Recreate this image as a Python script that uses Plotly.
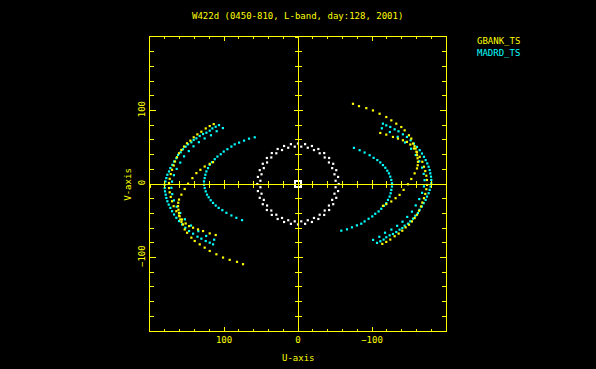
import plotly.graph_objects as go

# ---------------- text ----------------
title_text = "W422d (0450-810, L-band, day:128, 2001)"
series_names = ["GBANK_TS", "MADRD_TS"]
x_title = "U-axis"
y_title = "V-axis"
major_ticks = [-100, 0, 100]

# ---------------- data (u, v) ----------------
# MADRD_TS : outer track
madrd_outer_u = [106.8, 111.3, 115.7, 119.3, 123.8, 128.3, 132.8, 137.3, 141.0, 144.1,
                 148.6, 151.8, 155.4, 158.5, 162.1, 164.4, 167.5, 169.8, 172.5, 174.3,
                 176.5, 177.9, 179.2, 180.1, 180.1, 179.7, 178.8, 177.9, 176.5, 174.7,
                 172.5, 170.2, 167.5, 164.4, 160.8, 156.7, 152.2, 147.2, 141.8, 135.8,
                 130.6, 124.7, 119.3, 114.8]
madrd_outer_v = [80.1, 77.9, 75.6, 72.5, 69.8, 68.0, 65.3, 62.1, 59.9, 56.7,
                 54.0, 50.8, 47.2, 43.2, 39.6, 35.1, 30.6, 26.1, 21.6, 17.1,
                 12.6, 8.0, 3.5, -1.0, -5.5, -10.0, -14.5, -19.0, -23.5, -28.0,
                 -32.5, -37.0, -41.5, -46.0, -50.5, -55.0, -59.5, -64.0, -67.6, -71.7,
                 -74.4, -77.6, -79.8, -82.1]
madrd_outer_conj_u = [-106.8, -111.3, -115.7, -119.3, -123.8, -128.3, -132.8, -137.3, -141.0, -144.1,
                      -148.6, -151.8, -155.4, -158.5, -162.1, -164.4, -167.5, -169.8, -172.5, -174.3,
                      -176.5, -177.9, -179.2, -180.1, -180.1, -179.7, -178.8, -177.9, -176.5, -174.7,
                      -172.5, -170.2, -167.5, -164.4, -160.8, -156.7, -152.2, -147.2, -141.8, -135.8,
                      -130.6, -124.7, -119.3, -114.8]
madrd_outer_conj_v = [-80.1, -77.9, -75.6, -72.5, -69.8, -68.0, -65.3, -62.1, -59.9, -56.7,
                      -54.0, -50.8, -47.2, -43.2, -39.6, -35.1, -30.6, -26.1, -21.6, -17.1,
                      -12.6, -8.0, -3.5, 1.0, 5.5, 10.0, 14.5, 19.0, 23.5, 28.0,
                      32.5, 37.0, 41.5, 46.0, 50.5, 55.0, 59.5, 64.0, 67.6, 71.7,
                      74.4, 77.6, 79.8, 82.1]
# MADRD_TS : second outer track (other IF)
madrd_outer2_u = [101.5, 109.9, 117.6, 126.2, 134.0, 141.2, 147.6, 154.0, 159.1, 163.9, 167.7,
                  170.2, 171.1, 169.9, 167.7, 163.9, 159.1, 152.8, 144.6, 134.7, 124.1, 113.3]
madrd_outer2_v = [76.1, 71.8, 66.3, 62.0, 56.9, 51.3, 44.8, 37.6, 29.1, 20.5, 12.0,
                  3.3, -5.2, -13.8, -22.3, -30.9, -39.4, -48.0, -56.5, -64.2, -70.7, -75.8]
madrd_outer2_conj_u = [-101.5, -109.9, -117.6, -126.2, -134.0, -141.2, -147.6, -154.0, -159.1, -163.9, -167.7,
                       -170.2, -171.1, -169.9, -167.7, -163.9, -159.1, -152.8, -144.6, -134.7, -124.1, -113.3]
madrd_outer2_conj_v = [-76.1, -71.8, -66.3, -62.0, -56.9, -51.3, -44.8, -37.6, -29.1, -20.5, -12.0,
                       -3.3, 5.2, 13.8, 22.3, 30.9, 39.4, 48.0, 56.5, 64.2, 70.7, 75.8]
# MADRD_TS : inner track
madrd_inner_u = [58.5, 66.2, 72.9, 79.6, 85.5, 90.0, 95.4, 100.4, 104.4, 108.9,
                 112.5, 116.2, 119.3, 121.6, 123.8, 125.2, 126.1, 127.0, 127.0, 126.1,
                 124.7, 122.9, 120.7, 118.0, 114.8, 111.2, 107.2, 102.2, 96.8, 90.0,
                 83.3, 75.6]
madrd_inner_v = [63.5, 61.7, 59.0, 56.3, 54.0, 50.9, 47.3, 44.1, 40.5, 37.3,
                 33.7, 29.7, 26.1, 21.6, 17.1, 12.6, 8.1, 3.5, -1.0, -5.5,
                 -10.0, -14.5, -18.1, -22.1, -25.7, -29.3, -32.5, -35.6, -39.2, -42.8,
                 -46.0, -49.2]
madrd_inner_conj_u = [-58.5, -66.2, -72.9, -79.6, -85.5, -90.0, -95.4, -100.4, -104.4, -108.9,
                      -112.5, -116.2, -119.3, -121.6, -123.8, -125.2, -126.1, -127.0, -127.0, -126.1,
                      -124.7, -122.9, -120.7, -118.0, -114.8, -111.2, -107.2, -102.2, -96.8, -90.0,
                      -83.3, -75.6]
madrd_inner_conj_v = [-63.5, -61.7, -59.0, -56.3, -54.0, -50.9, -47.3, -44.1, -40.5, -37.3,
                      -33.7, -29.7, -26.1, -21.6, -17.1, -12.6, -8.1, -3.5, 1.0, 5.5,
                      10.0, 14.5, 18.1, 22.1, 25.7, 29.3, 32.5, 35.6, 39.2, 42.8,
                      46.0, 49.2]

# GBANK_TS : track 1
gbank_a_u = [113.9, 119.3, 124.7, 130.6, 136.0, 140.9, 145.4, 150.0, 154.0, 157.6,
             160.8, 163.5, 166.2, 168.0, 170.2, 172.0, 173.4, 174.3, 174.3, 173.4,
             172.0, 170.2, 168.0, 164.4, 160.8, 156.7, 151.8, 147.2, 141.8, 135.1,
             128.3, 119.3, 111.2]
gbank_a_v = [81.5, 78.8, 75.6, 71.1, 67.5, 63.5, 59.0, 55.4, 50.9, 46.3,
             41.8, 36.4, 30.6, 25.2, 19.3, 13.5, 7.1, 1.3, -5.5, -11.3,
             -17.6, -23.5, -30.2, -37.0, -42.9, -48.3, -53.7, -57.3, -59.5, -61.8,
             -64.0, -67.2, -69.4]
gbank_a_conj_u = [-113.9, -119.3, -124.7, -130.6, -136.0, -140.9, -145.4, -150.0, -154.0, -157.6,
                  -160.8, -163.5, -166.2, -168.0, -170.2, -172.0, -173.4, -174.3, -174.3, -173.4,
                  -172.0, -170.2, -168.0, -164.4, -160.8, -156.7, -151.8, -147.2, -141.8, -135.1,
                  -128.3, -119.3, -111.2]
gbank_a_conj_v = [-81.5, -78.8, -75.6, -71.1, -67.5, -63.5, -59.0, -55.4, -50.9, -46.3,
                  -41.8, -36.4, -30.6, -25.2, -19.3, -13.5, -7.1, -1.3, 5.5, 11.3,
                  17.6, 23.5, 30.2, 37.0, 42.9, 48.3, 53.7, 57.3, 59.5, 61.8,
                  64.0, 67.2, 69.4]
# GBANK_TS : track 2
gbank_b_u = [114.8, 119.3, 126.1, 131.9, 137.3, 142.7, 148.6, 153.1, 157.6, 160.8,
             161.8, 162.1, 161.6, 160.8, 160.0, 159.0, 157.5, 155.4, 153.1, 149.9,
             144.1, 139.6, 132.8, 126.1, 119.3, 110.3, 101.3, 92.3, 82.4, 74.3]
gbank_b_v = [29.7, 27.4, 23.8, 19.3, 14.8, 8.0, 0.4, -6.8, -14.5, -21.2,
             -25.5, -30.2, -35.0, -39.3, -44.0, -48.3, -51.5, -55.0, -61.8, -66.3,
             -73.0, -77.5, -82.1, -86.6, -91.1, -95.6, -100.1, -103.2, -105.9, -109.1]
gbank_b_conj_u = [-114.8, -119.3, -126.1, -131.9, -137.3, -142.7, -148.6, -153.1, -157.6, -160.8,
                  -161.8, -162.1, -161.6, -160.8, -160.0, -159.0, -157.5, -155.4, -153.1, -149.9,
                  -144.1, -139.6, -132.8, -126.1, -119.3, -110.3, -101.3, -92.3, -82.4, -74.3]
gbank_b_conj_v = [-29.7, -27.4, -23.8, -19.3, -14.8, -8.0, -0.4, 6.8, 14.5, 21.2,
                  25.5, 30.2, 35.0, 39.3, 44.0, 48.3, 51.5, 55.0, 61.8, 66.3,
                  73.0, 77.5, 82.1, 86.6, 91.1, 95.6, 100.1, 103.2, 105.9, 109.1]

# short baseline ring (white)
ring_u = [55.0, 54.2, 51.7, 47.6, 42.1, 35.4, 27.5, 18.8, 9.6, 0.0,
          -9.6, -18.8, -27.5, -35.4, -42.1, -47.6, -51.7, -54.2, -55.0, -54.2,
          -51.7, -47.6, -42.1, -35.4, -27.5, -18.8, -9.6, 0.0, 9.6, 18.8,
          27.5, 35.4, 42.1, 47.6, 51.7, 54.2]
ring_v = [0.0, 9.6, 18.8, 27.5, 35.4, 42.1, 47.6, 51.7, 54.2, 55.0,
          54.2, 51.7, 47.6, 42.1, 35.4, 27.5, 18.8, 9.6, 0.0, -9.6,
          -18.8, -27.5, -35.4, -42.1, -47.6, -51.7, -54.2, -55.0, -54.2, -51.7,
          -47.6, -42.1, -35.4, -27.5, -18.8, -9.6]
ring2_u = [50.8, 49.3, 46.2, 41.8, 36.1, 29.3, 21.6, 13.2, 4.4, -4.4,
           -13.2, -21.6, -29.3, -36.1, -41.8, -46.2, -49.3, -50.8, -50.8, -49.3,
           -46.2, -41.8, -36.1, -29.3, -21.6, -13.2, -4.4, 4.4, 13.2, 21.6,
           29.3, 36.1, 41.8, 46.2, 49.3, 50.8]
ring2_v = [4.4, 13.2, 21.6, 29.3, 36.1, 41.8, 46.2, 49.3, 50.8, 50.8,
           49.3, 46.2, 41.8, 36.1, 29.3, 21.6, 13.2, 4.4, -4.4, -13.2,
           -21.6, -29.3, -36.1, -41.8, -46.2, -49.3, -50.8, -50.8, -49.3, -46.2,
           -41.8, -36.1, -29.3, -21.6, -13.2, -4.4]
# zero-spacing point
center_u = [0.0]
center_v = [0.0]

# ---------------- style ----------------
YEL = "#ffff00"
CYN = "#00ffff"
WHT = "#ffffff"
FONT = "DejaVu Sans Mono"
FS = 9

gbank_u = gbank_a_u + gbank_a_conj_u + gbank_b_u + gbank_b_conj_u
gbank_v = gbank_a_v + gbank_a_conj_v + gbank_b_v + gbank_b_conj_v
madrd_u = (madrd_outer_u + madrd_outer_conj_u + madrd_outer2_u + madrd_outer2_conj_u
           + madrd_inner_u + madrd_inner_conj_u)
madrd_v = (madrd_outer_v + madrd_outer_conj_v + madrd_outer2_v + madrd_outer2_conj_v
           + madrd_inner_v + madrd_inner_conj_v)

fig = go.Figure()
mk = dict(symbol="square", size=2.2, line=dict(width=0))
fig.add_trace(go.Scatter(x=ring_u + ring2_u, y=ring_v + ring2_v, mode="markers",
                         marker=dict(mk, color=WHT), name="ring", hoverinfo="skip"))
fig.add_trace(go.Scatter(x=madrd_u, y=madrd_v, mode="markers",
                         marker=dict(mk, color=CYN), name=series_names[1]))
fig.add_trace(go.Scatter(x=gbank_u, y=gbank_v, mode="markers",
                         marker=dict(mk, color=YEL), name=series_names[0]))
fig.add_trace(go.Scatter(x=center_u, y=center_v, mode="markers",
                         marker=dict(symbol="square-open", size=6, color=WHT,
                                     line=dict(width=2, color=WHT)), name="zero"))
# dummy traces so the cross-hair axes exist
for xa, ya in [("x2", "y"), ("x3", "y"), ("x", "y2"), ("x", "y3")]:
    fig.add_trace(go.Scatter(x=[None], y=[None], xaxis=xa, yaxis=ya, mode="markers",
                             showlegend=False, hoverinfo="skip"))

RNG_X = [200, -200]
RNG_Y = [-200, 200]


def xax(ticks, major_len, minor_len, **kw):
    d = dict(range=RNG_X, showgrid=False, zeroline=False, showline=True, linecolor=YEL,
             linewidth=1, ticks=ticks, ticklen=major_len, tickwidth=1, tickcolor=YEL,
             tickmode="array", tickvals=major_ticks,
             minor=dict(tickmode="linear", tick0=0, dtick=20, ticks=ticks,
                        ticklen=minor_len, tickwidth=1, tickcolor=YEL, showgrid=False),
             tickfont=dict(family=FONT, size=FS, color=YEL), fixedrange=True)
    d.update(kw)
    return d


def yax(ticks, major_len, minor_len, **kw):
    d = dict(range=RNG_Y, showgrid=False, zeroline=False, showline=True, linecolor=YEL,
             linewidth=1, ticks=ticks, ticklen=major_len, tickwidth=1, tickcolor=YEL,
             tickmode="array", tickvals=major_ticks,
             minor=dict(tickmode="linear", tick0=0, dtick=20, ticks=ticks,
                        ticklen=minor_len, tickwidth=1, tickcolor=YEL, showgrid=False),
             tickfont=dict(family=FONT, size=FS, color=YEL), fixedrange=True)
    d.update(kw)
    return d


fig.update_layout(
    width=596, height=369,
    paper_bgcolor="black", plot_bgcolor="black",
    margin=dict(l=150, r=150, t=37, b=38),
    showlegend=False,
    xaxis=xax("inside", 4, 2, mirror="ticks"),
    yaxis=yax("inside", 6, 4, mirror="ticks", tickangle=-90),
    xaxis2=xax("inside", 4, 3, overlaying="x", anchor="free", position=0.5, showticklabels=False),
    xaxis3=xax("outside", 4, 3, overlaying="x", anchor="free", position=0.5, showticklabels=False),
    yaxis2=yax("inside", 4, 3, overlaying="y", anchor="free", position=0.5, showticklabels=False),
    yaxis3=yax("outside", 4, 3, overlaying="y", anchor="free", position=0.5, showticklabels=False),
    annotations=[
        dict(text=title_text, x=0.498, y=1.0714, xref="paper", yref="paper", showarrow=False,
             xanchor="center", yanchor="middle", font=dict(family=FONT, size=FS, color=YEL)),
        dict(text=x_title, x=0.5, y=-0.0918, xref="paper", yref="paper", showarrow=False,
             xanchor="center", yanchor="middle", font=dict(family=FONT, size=FS, color=YEL)),
        dict(text=y_title, x=-0.0743, y=0.4976, xref="paper", yref="paper", showarrow=False,
             textangle=-90, xanchor="center", yanchor="middle",
             font=dict(family=FONT, size=FS, color=YEL)),
        dict(text=series_names[0], x=1.098, y=0.9847, xref="paper", yref="paper", showarrow=False,
             xanchor="left", yanchor="middle", font=dict(family=FONT, size=FS, color=YEL)),
        dict(text=series_names[1], x=1.098, y=0.9466, xref="paper", yref="paper", showarrow=False,
             xanchor="left", yanchor="middle", font=dict(family=FONT, size=FS, color=CYN)),
    ],
)

fig.write_html(
    "out.html",
    config={"displayModeBar": False, "staticPlot": True},
    post_script="document.body.style.margin='0';document.body.style.background='black';"
                "document.documentElement.style.overflow='hidden';",
)
